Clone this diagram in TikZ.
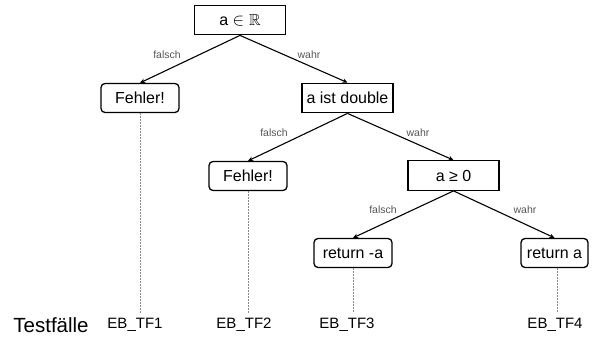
\documentclass[tikz,border=0pt]{standalone}
\usepackage{amssymb}
\usepackage{fontspec}
\setmainfont{Liberation Sans}
\usetikzlibrary{arrows.meta}
\definecolor{labelgray}{HTML}{555555}
\definecolor{dotgray}{HTML}{888888}
\begin{document}
\begin{tikzpicture}[x=1pt,y=-1pt,
  decision/.style={draw, line width=1.3pt, inner sep=0pt, minimum width=91pt,
    minimum height=29.5pt, font=\fontsize{16}{18}\selectfont},
  outcome/.style={draw, line width=1.3pt, rounded corners=4pt, inner sep=0pt,
    minimum width=78pt, minimum height=29pt, font=\fontsize{16}{18}\selectfont},
  branch/.style={line width=1.1pt, -{Stealth[length=5pt,width=4.5pt]}},
  edgelabel/.style={text=labelgray, font=\fontsize{10.5}{12}\selectfont, inner sep=0pt},
  trace/.style={draw=dotgray, line width=0.9pt, dash pattern=on 1.5pt off 1.5pt},
  testcase/.style={font=\fontsize{15}{17}\selectfont, inner sep=0pt}]
  \useasboundingbox (0,0) rectangle (592,337);

  % decision nodes
  \node[decision] (real)   at (240,20)    {a $\in\mathbb{R}$};
  \node[decision] (double) at (347.5,98)  {a ist double};
  \node[decision] (sign)   at (453.5,175.5) {a ≥ 0};

  % leaves
  \node[outcome] (err1) at (140,98)    {Fehler!};
  \node[outcome] (err2) at (248,176)   {Fehler!};
  \node[outcome] (neg)  at (353,253)   {return -a};
  \node[outcome, minimum width=67pt] (pos)  at (554.5,253) {return a};

  % branches
  \draw[branch] (real.south)   -- (err1.north);
  \draw[branch] (real.south)   -- (double.north);
  \draw[branch] (double.south) -- (err2.north);
  \draw[branch] (double.south) -- (sign.north);
  \draw[branch] (sign.south)   -- (neg.north);
  \draw[branch] (sign.south)   -- (pos.north);

  % branch labels
  \node[edgelabel] (l1) at (167,55)  {falsch};
  \node[edgelabel] (l2) at (309,55)  {wahr};
  \node[edgelabel] (l3) at (274,133) {falsch};
  \node[edgelabel] (l4) at (418,133) {wahr};
  \node[edgelabel] (l5) at (383,210) {falsch};
  \node[edgelabel] (l6) at (525,210) {wahr};

  % test cases
  \node[font=\fontsize{20.5}{22}\selectfont, inner sep=0pt] (tf) at (51,325) {Testfälle};
  \node[testcase] (tc1) at (135,325) {EB\_TF1};
  \node[testcase] (tc2) at (244,325) {EB\_TF2};
  \node[testcase] (tc3) at (347,325) {EB\_TF3};
  \node[testcase] (tc4) at (555,325) {EB\_TF4};

  \coordinate (e1) at (140,313);
  \coordinate (e2) at (248,313);
  \coordinate (e3) at (353,313);
  \coordinate (e4) at (557,313);
  \draw[trace] (err1.south) -- (e1);
  \draw[trace] (err2.south) -- (e2);
  \draw[trace] (neg.south)  -- (e3);
  \draw[trace] (pos.south -| e4) -- (e4);
\end{tikzpicture}
\end{document}
